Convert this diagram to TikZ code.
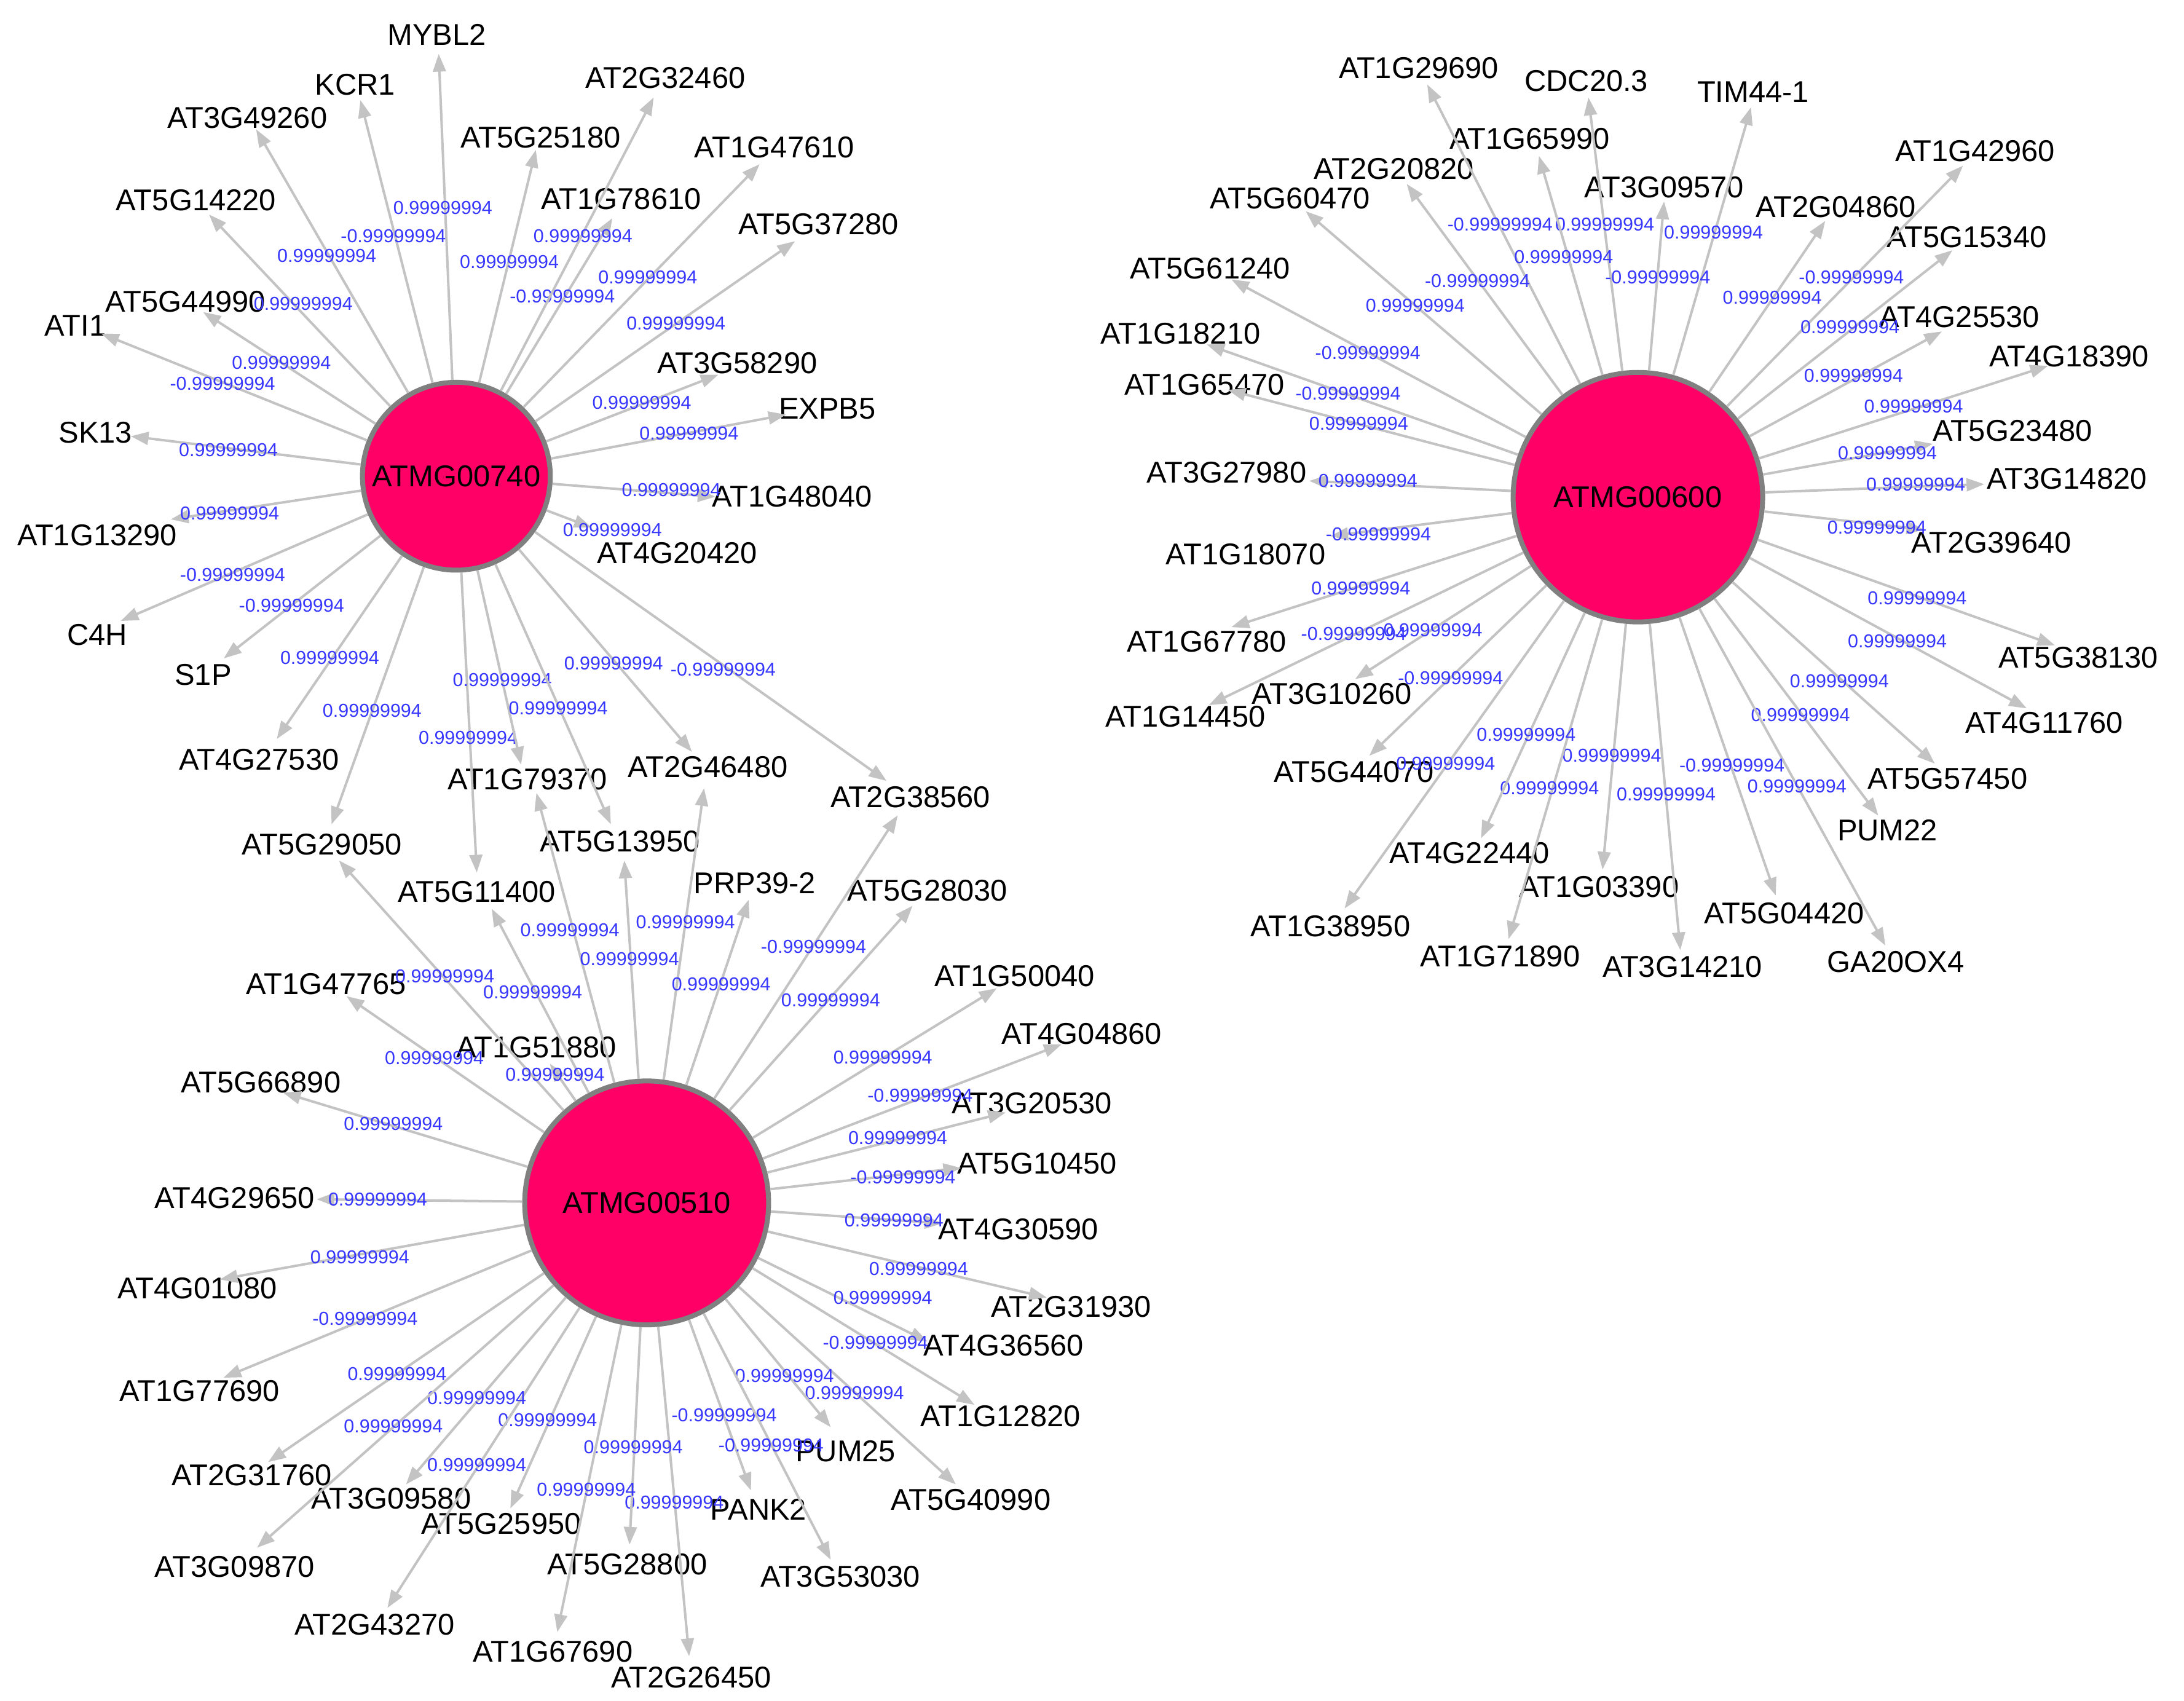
\documentclass[tikz,border=0pt]{standalone}
\usepackage{fontspec}
\setmainfont{Liberation Sans}
\usetikzlibrary{arrows.meta}
\definecolor{hubfill}{RGB}{255,0,102}
\definecolor{hubline}{RGB}{128,128,128}
\definecolor{edgecol}{RGB}{195,195,195}
\definecolor{elcol}{RGB}{55,55,255}
\tikzset{
 hub/.style={circle,fill=hubfill,draw=hubline,line width=10pt,inner sep=0pt,font=\fontsize{61}{70}\selectfont},
 lbl/.style={inner sep=1pt,font=\fontsize{61}{70}\selectfont,text=black},
 elbl/.style={inner sep=0pt,font=\fontsize{38}{44}\selectfont,text=elcol},
 edge/.style={draw=edgecol,line width=5pt,-{Triangle[length=36pt,width=26pt]}}
}
\newcommand\gn[6]{\node[lbl] (#1) at (#3,#4) {#2};\coordinate (#1t) at (#5,#6);}
\newcommand\ed[5]{\draw[edge] (#1) -- (#2); \node[elbl] (e#1#2) at (#3,#4) {#5};}
\def\pv{0.99999994}
\def\mv{-0.99999994}
\begin{document}
\begin{tikzpicture}
\useasboundingbox[fill=white] (0,0) rectangle (155.8,-121.3);
% ---------- hub A coordinates (zoom1 frame)
\begin{scope}[x=0.042cm,y=-0.0366cm]
\node[hub,minimum size=13.4cm] (hA) at (775,928) {ATMG00740};
\gn{a1}{MYBL2}{742}{68}{745}{105}
\gn{a2}{KCR1}{603}{165}{612}{195}
\gn{a3}{AT3G49260}{420}{230}{435}{252}
\gn{a4}{AT5G14220}{333}{390}{355}{418}
\gn{a5}{AT5G44990}{315}{588}{345}{608}
\gn{a6}{ATI1}{128}{635}{172}{650}
\gn{a7}{SK13}{162}{843}{222}{850}
\gn{a8}{AT1G13290}{165}{1043}{290}{1012}
\gn{a9}{C4H}{165}{1237}{205}{1210}
\gn{a10}{S1P}{345}{1315}{380}{1283}
\gn{a11}{AT4G27530}{440}{1480}{470}{1440}
\gn{a12}{AT4G20420}{1150}{1078}{1005}{1028}
\gn{a13}{AT1G48040}{1345}{968}{1215}{968}
\gn{a14}{EXPB5}{1405}{797}{1335}{808}
\gn{a15}{AT3G58290}{1252}{708}{1220}{730}
\gn{a16}{AT5G37280}{1390}{437}{1350}{470}
\gn{a17}{AT1G47610}{1315}{287}{1290}{320}
\gn{a18}{AT1G78610}{1055}{388}{1040}{425}
\gn{a19}{AT2G32460}{1130}{152}{1110}{190}
\gn{a20}{AT5G25180}{918}{268}{910}{292}
\coordinate (s3a) at (885,1490);
\coordinate (s5a) at (1175,1465);
\end{scope}
% ---------- hub C and shared (zoom3 frame)
\begin{scope}[shift={(0cm,-54.5cm)},x=0.05315cm,y=-0.043cm]
\node[hub,minimum size=17.4cm] (hC) at (868,728) {ATMG00510};
\gn{s1}{AT5G29050}{432}{133}{455}{160}
\gn{s2}{AT5G11400}{640}{212}{660}{240}
\gn{s3}{AT1G79370}{708}{25}{720}{48}
\gn{s4}{AT5G13950}{832}{128}{838}{160}
\gn{s5}{AT2G46480}{950}{5}{945}{40}
\gn{s6}{AT2G38560}{1222}{55}{1205}{85}
\coordinate (s1a) at (445,100);
\coordinate (s2a) at (640,180);
\coordinate (s4a) at (820,100);
\coordinate (s6a) at (1190,28);
\gn{c1}{PRP39-2}{1013}{198}{1005}{225}
\gn{c2}{AT5G28030}{1245}{210}{1225}{235}
\gn{c3}{AT1G50040}{1362}{352}{1338}{372}
\gn{c4}{AT4G04860}{1452}{447}{1425}{465}
\gn{c5}{AT3G20530}{1385}{563}{1350}{578}
\gn{c6}{AT5G10450}{1392}{663}{1290}{670}
\gn{c7}{AT4G30590}{1367}{772}{1265}{762}
\gn{c8}{AT2G31930}{1438}{900}{1405}{885}
\gn{c9}{AT4G36560}{1347}{965}{1245}{958}
\gn{c10}{AT1G12820}{1343}{1082}{1308}{1063}
\gn{c11}{AT5G40990}{1303}{1220}{1283}{1195}
\gn{c12}{PUM25}{1135}{1140}{1115}{1100}
\gn{c13}{PANK2}{1018}{1237}{1008}{1205}
\gn{c14}{AT3G53030}{1128}{1348}{1115}{1320}
\gn{c15}{AT2G26450}{928}{1515}{925}{1480}
\gn{c16}{AT5G28800}{842}{1328}{845}{1295}
\gn{c17}{AT1G67690}{742}{1472}{748}{1440}
\gn{c18}{AT5G25950}{673}{1260}{685}{1235}
\gn{c19}{AT2G43270}{503}{1427}{520}{1400}
\gn{c20}{AT3G09580}{525}{1218}{545}{1195}
\gn{c21}{AT3G09870}{315}{1332}{345}{1300}
\gn{c22}{AT2G31760}{338}{1180}{360}{1158}
\gn{c23}{AT1G77690}{268}{1040}{300}{1018}
\gn{c24}{AT4G01080}{265}{870}{295}{855}
\gn{c25}{AT4G29650}{315}{720}{425}{722}
\gn{c26}{AT5G66890}{350}{528}{380}{545}
\gn{c27}{AT1G47765}{438}{365}{465}{385}
\gn{c28}{AT1G51880}{720}{470}{738}{497}
\end{scope}
% ---------- hub B (zoom2 frame)
\begin{scope}[shift={(76.75cm,0cm)},x=0.05043cm,y=-0.04635cm]
\node[hub,minimum size=17.8cm] (hB) at (795,765) {ATMG00600};
\gn{b1}{AT1G29690}{485}{105}{497}{130}
\gn{b2}{CDC20.3}{722}{125}{725}{150}
\gn{b3}{TIM44-1}{958}{142}{955}{165}
\gn{b4}{AT1G65990}{642}{213}{655}{240}
\gn{b5}{AT2G20820}{450}{260}{468}{283}
\gn{b6}{AT3G09570}{832}{288}{832}{310}
\gn{b7}{AT2G04860}{1075}{318}{1060}{340}
\gn{b8}{AT1G42960}{1272}{232}{1255}{255}
\gn{b9}{AT5G15340}{1260}{365}{1240}{385}
\gn{b10}{AT4G25530}{1250}{488}{1225}{510}
\gn{b11}{AT4G18390}{1405}{548}{1375}{563}
\gn{b12}{AT5G23480}{1325}{663}{1212}{683}
\gn{b13}{AT3G14820}{1402}{737}{1285}{745}
\gn{b14}{AT2G39640}{1295}{835}{1200}{815}
\gn{b15}{AT5G38130}{1418}{1012}{1385}{993}
\gn{b16}{AT4G11760}{1370}{1112}{1345}{1090}
\gn{b17}{AT5G57450}{1233}{1198}{1215}{1175}
\gn{b18}{PUM22}{1148}{1278}{1135}{1255}
\gn{b19}{GA20OX4}{1160}{1480}{1145}{1455}
\gn{b20}{AT5G04420}{1002}{1405}{990}{1378}
\gn{b21}{AT3G14210}{858}{1488}{855}{1462}
\gn{b22}{AT1G03390}{740}{1365}{745}{1338}
\gn{b23}{AT1G71890}{600}{1472}{612}{1445}
\gn{b24}{AT4G22440}{557}{1313}{573}{1290}
\gn{b25}{AT1G38950}{360}{1425}{380}{1398}
\gn{b26}{AT5G44070}{393}{1188}{415}{1163}
\gn{b27}{AT3G10260}{362}{1068}{395}{1045}
\gn{b28}{AT1G14450}{155}{1103}{188}{1085}
\gn{b29}{AT1G67780}{185}{987}{220}{965}
\gn{b30}{AT1G18070}{240}{853}{360}{825}
\gn{b31}{AT3G27980}{213}{727}{330}{740}
\gn{b32}{AT1G65470}{182}{592}{215}{600}
\gn{b33}{AT1G18210}{148}{513}{185}{530}
\gn{b34}{AT5G61240}{190}{413}{220}{430}
\gn{b35}{AT5G60470}{303}{305}{325}{325}
% edges hub B
\ed{hB}{b1t}{600}{345}{\mv}
\ed{hB}{b2t}{748}{345}{\pv}
\ed{hB}{b3t}{902}{358}{\pv}
\ed{hB}{b4t}{690}{395}{\pv}
\ed{hB}{b5t}{568}{432}{\mv}
\ed{hB}{b6t}{823}{427}{\mv}
\ed{hB}{b7t}{985}{458}{\pv}
\ed{hB}{b8t}{1097}{427}{\mv}
\ed{hB}{b9t}{1095}{503}{\pv}
\ed{hB}{b10t}{1100}{578}{\pv}
\ed{hB}{b11t}{1185}{625}{\pv}
\ed{hB}{b12t}{1148}{697}{\pv}
\ed{hB}{b13t}{1188}{745}{\pv}
\ed{hB}{b14t}{1133}{812}{\pv}
\ed{hB}{b15t}{1190}{920}{\pv}
\ed{hB}{b16t}{1162}{987}{\pv}
\ed{hB}{b17t}{1080}{1048}{\pv}
\ed{hB}{b18t}{1025}{1100}{\pv}
\ed{hB}{b19t}{1020}{1210}{\pv}
\ed{hB}{b20t}{928}{1178}{\mv}
\ed{hB}{b21t}{835}{1222}{\pv}
\ed{hB}{b22t}{758}{1163}{\pv}
\ed{hB}{b23t}{670}{1213}{\pv}
\ed{hB}{b24t}{637}{1130}{\pv}
\ed{hB}{b25t}{523}{1175}{\pv}
\ed{hB}{b26t}{530}{1043}{\mv}
\ed{hB}{b27t}{505}{970}{\pv}
\ed{hB}{b28t}{393}{975}{\mv}
\ed{hB}{b29t}{403}{905}{\pv}
\ed{hB}{b30t}{428}{822}{\mv}
\ed{hB}{b31t}{413}{740}{\pv}
\ed{hB}{b32t}{400}{652}{\pv}
\ed{hB}{b33t}{385}{605}{\mv}
\ed{hB}{b34t}{413}{543}{\mv}
\ed{hB}{b35t}{480}{470}{\pv}
\end{scope}
% edges hub A (zoom1 frame)
\begin{scope}[x=0.042cm,y=-0.0366cm]
\ed{hA}{a1t}{752}{405}{\pv}
\ed{hA}{a2t}{668}{460}{\mv}
\ed{hA}{a3t}{555}{498}{\pv}
\ed{hA}{a4t}{515}{592}{\pv}
\ed{hA}{a5t}{478}{707}{\pv}
\ed{hA}{a6t}{378}{748}{\mv}
\ed{hA}{a7t}{388}{877}{\pv}
\ed{hA}{a8t}{390}{1000}{\pv}
\ed{hA}{a9t}{395}{1120}{\mv}
\ed{hA}{a10t}{495}{1180}{\mv}
\ed{hA}{a11t}{560}{1282}{\pv}
\ed{hA}{a12t}{1040}{1033}{\pv}
\ed{hA}{a13t}{1140}{955}{\pv}
\ed{hA}{a14t}{1170}{845}{\pv}
\ed{hA}{a15t}{1090}{785}{\pv}
\ed{hA}{a16t}{1148}{630}{\pv}
\ed{hA}{a17t}{1100}{540}{\pv}
\ed{hA}{a18t}{955}{578}{\mv}
\ed{hA}{a19t}{990}{460}{\pv}
\ed{hA}{a20t}{865}{510}{\pv}
\ed{hA}{s1a}{632}{1385}{\pv}
\ed{hA}{s2a}{795}{1438}{\pv}
\ed{hA}{s3a}{853}{1325}{\pv}
\ed{hA}{s4a}{948}{1380}{\pv}
\ed{hA}{s5a}{1042}{1292}{\pv}
\ed{hA}{s6a}{1228}{1305}{\mv}
\end{scope}
% edges hub C (zoom3 frame)
\begin{scope}[shift={(0cm,-54.5cm)},x=0.05315cm,y=-0.043cm]
\ed{hC}{s1t}{597}{352}{\pv}
\ed{hC}{s2t}{715}{378}{\pv}
\ed{hC}{s3t}{765}{275}{\pv}
\ed{hC}{s4t}{845}{323}{\pv}
\ed{hC}{s5t}{920}{262}{\pv}
\ed{hC}{s6t}{1092}{303}{\mv}
\ed{hC}{c1t}{968}{365}{\pv}
\ed{hC}{c2t}{1115}{392}{\pv}
\ed{hC}{c3t}{1185}{487}{\pv}
\ed{hC}{c4t}{1235}{550}{\mv}
\ed{hC}{c5t}{1205}{620}{\pv}
\ed{hC}{c6t}{1212}{685}{\mv}
\ed{hC}{c7t}{1200}{757}{\pv}
\ed{hC}{c8t}{1233}{837}{\pv}
\ed{hC}{c9t}{1185}{885}{\pv}
\ed{hC}{c10t}{1175}{960}{\mv}
\ed{hC}{c11t}{1147}{1043}{\pv}
\ed{hC}{c12t}{1053}{1015}{\pv}
\ed{hC}{c13t}{972}{1080}{\mv}
\ed{hC}{c14t}{1035}{1130}{\mv}
\ed{hC}{c15t}{905}{1225}{\pv}
\ed{hC}{c16t}{850}{1133}{\pv}
\ed{hC}{c17t}{787}{1203}{\pv}
\ed{hC}{c18t}{735}{1088}{\pv}
\ed{hC}{c19t}{640}{1163}{\pv}
\ed{hC}{c20t}{640}{1052}{\pv}
\ed{hC}{c21t}{528}{1098}{\pv}
\ed{hC}{c22t}{533}{1012}{\pv}
\ed{hC}{c23t}{490}{920}{\mv}
\ed{hC}{c24t}{483}{818}{\pv}
\ed{hC}{c25t}{507}{722}{\pv}
\ed{hC}{c26t}{528}{597}{\pv}
\ed{hC}{c27t}{583}{488}{\pv}
\ed{hC}{c28t}{745}{515}{\pv}
\end{scope}
\end{tikzpicture}
\end{document}
